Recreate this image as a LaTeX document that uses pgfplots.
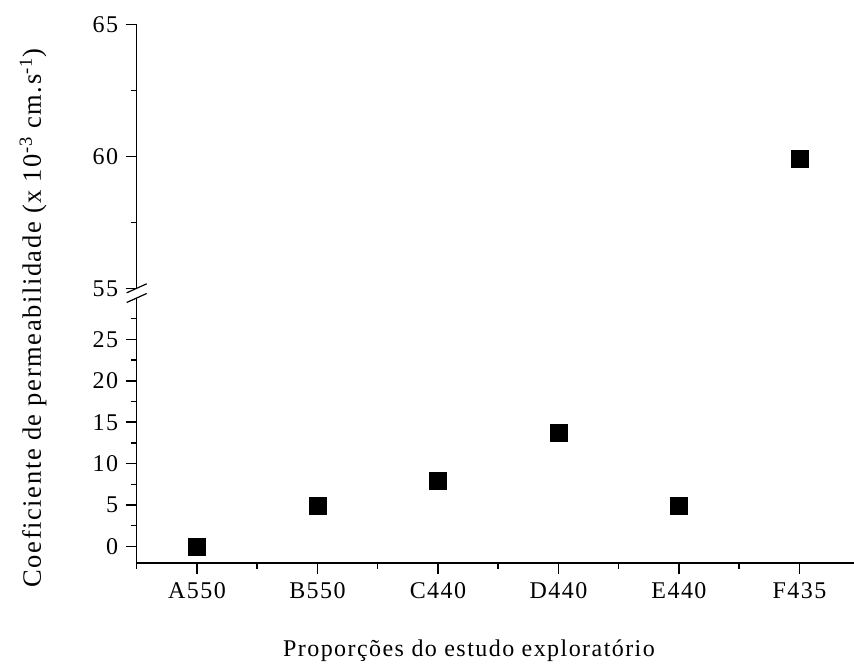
\documentclass[border=0pt]{standalone}
\usepackage{fontspec}
\setmainfont{Liberation Serif}[LetterSpace=6]
\usepackage{pgfplots}
\pgfplotsset{compat=1.18}

\pgfplotsset{
  brk/.style={
    scale only axis,
    width=717pt,
    xmin=-0.5, xmax=5.45,
    axis y line*=left,
    axis line style={line width=1.5pt},
    tick style={black, line width=1.5pt},
    major tick length=11pt,
    minor tick length=6pt,
    tick align=outside,
    ytick pos=left,
    /pgf/number format/assume math mode=true,
    tick label style={font=\fontsize{24}{28}\selectfont},
    y tick label style={xshift=-4pt},
    clip=false,
  },
}

\begin{document}
\begin{tikzpicture}
\useasboundingbox (0,0) rectangle (854pt,669pt);

% lower part
\begin{axis}[
  brk,
  name=lower,
  at={(136.7pt,106pt)}, anchor=south west,
  height=265pt,
  ymin=-2, ymax=30,
  axis x line*=bottom,
  xtick={0,1,2,3,4,5},
  xticklabels={A550,B550,C440,D440,E440,F435},
  minor xtick={-0.5,0.5,1.5,2.5,3.5,4.5},
  xtick pos=bottom,
  ytick={0,5,10,15,20,25},
  minor ytick={2.5,7.5,12.5,17.5,22.5,27.5},
  x tick label style={yshift=-5pt},
]
\addplot[only marks, mark=square*, mark size=8.5pt, black]
  coordinates {(0,0) (1,4.9) (2,7.9) (3,13.7) (4,4.9)};
\end{axis}

% upper part
\begin{axis}[
  brk,
  name=upper,
  at={(136.7pt,380.7pt)}, anchor=south west,
  height=264pt,
  ymin=55, ymax=65,
  axis x line=none,
  ytick={55,60,65},
  minor ytick={57.5,62.5},
]
\addplot[only marks, mark=square*, mark size=8.5pt, black]
  coordinates {(5,59.9)};
\end{axis}

% break marks
\draw[line width=1.2pt] (upper.south west) ++(-10pt,-4.5pt) -- ++(20pt,9pt);
\draw[line width=1.2pt] (lower.north west) ++(-10pt,-4.5pt) -- ++(20pt,9pt);

\node[font=\fontsize{24}{28}\selectfont] at (469pt,18pt) {Proporções do estudo exploratório};
\node[rotate=90, font=\fontsize{26.5}{30}\selectfont] at (33pt,351pt)
  {Coeficiente de permeabilidade (x 10\textsuperscript{-3} cm.s\textsuperscript{-1})};
\end{tikzpicture}
\end{document}
